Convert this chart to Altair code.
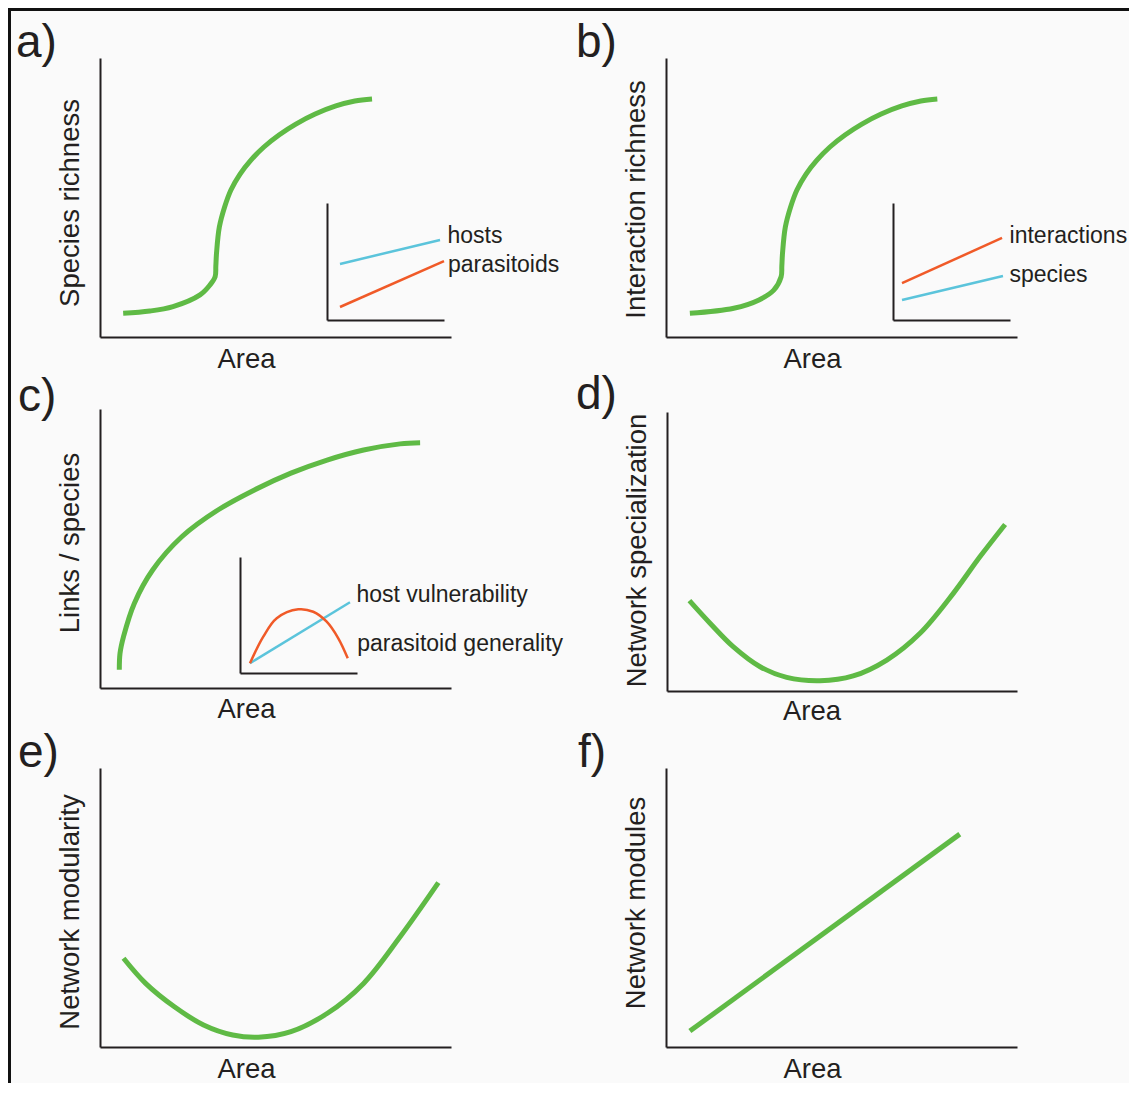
import altair as alt
import pandas as pd

# ---------------- values ----------------
# Every series is on a relative 0-100 scale of its own panel (x = Area).
panel_letters = ["a)", "b)", "c)", "d)", "e)", "f)"]
y_titles = ["Species richness", "Interaction richness", "Links / species",
            "Network specialization", "Network modularity", "Network modules"]
x_title = "Area"

a_area = [6.6, 14.2, 20.8, 28.5, 31.3, 32.8, 33.0, 33.2, 34.0, 35.5, 37.3, 39.9, 43.0,
          46.7, 51.0, 55.8, 61.3, 67.2, 72.6, 77.5]
a_species_richness = [8.5, 9.3, 10.9, 15.1, 18.6, 21.6, 25.4, 30.1, 39.4, 46.6, 52.7, 58.4, 63.4,
                      68.1, 72.4, 76.3, 79.9, 82.8, 84.6, 85.3]

b_area = [6.8, 19.3, 26.5, 30.7, 32.8, 33.0, 33.2, 34.0, 35.5, 37.3, 39.9, 43.0,
          46.7, 51.0, 55.8, 61.3, 67.2, 72.6, 77.3]
b_interaction_richness = [8.5, 10.3, 13.3, 16.8, 21.6, 25.4, 30.1, 39.4, 46.6, 52.7, 58.4, 63.4,
                          68.1, 72.4, 76.3, 79.9, 82.8, 84.6, 85.3]

c_area = [5.5, 5.7, 6.7, 9.8, 15.0, 23.3, 33.6, 44.0, 54.4, 64.7, 75.1, 85.5, 91.2]
c_links_per_species = [6.5, 12.4, 18.4, 30.4, 42.3, 54.2, 63.8, 71.0, 77.0, 81.7, 85.3, 87.5, 87.9]

d_area = [6.4, 12.3, 18.9, 26.6, 34.2, 43.7, 53.2, 62.8, 72.3, 81.8, 89.4, 96.6]
d_specialization = [32.4, 24.3, 15.9, 8.7, 4.9, 3.7, 5.4, 11.1, 20.7, 35.0, 48.1, 59.7]

e_area = [6.7, 13.0, 21.2, 29.5, 37.8, 45.1, 54.4, 64.8, 75.1, 85.5, 96.4]
e_modularity = [31.8, 22.8, 14.4, 7.9, 4.3, 3.5, 5.5, 12.1, 22.8, 39.5, 58.9]

f_area = [6.8, 83.7]
f_modules = [5.7, 76.3]

# insets (relative 0-100 scales of each inset)
a_inset_names = ["hosts", "parasitoids"]
a_inset_area_hosts = [11.1, 96.6]
a_inset_hosts = [47.9, 68.4]
a_inset_area_parasitoids = [11.1, 100.0]
a_inset_parasitoids = [11.1, 50.4]

b_inset_names = ["interactions", "species"]
b_inset_area_interactions = [7.7, 93.2]
b_inset_interactions = [31.6, 70.1]
b_inset_area_species = [7.7, 94.0]
b_inset_species = [17.1, 37.6]

c_inset_names = ["host vulnerability", "parasitoid generality"]
c_inset_area_vulnerability = [8.5, 94.0]
c_inset_vulnerability = [8.4, 61.0]
c_inset_area_generality = [8.5, 19.9, 31.4, 49.8, 62.6, 74.1, 84.0, 92.1]
c_inset_generality = [8.4, 31.3, 47.2, 54.9, 52.8, 44.2, 29.9, 12.7]

# ---------------- styling / layout ----------------
W, H = 1121, 1075
FONT = "Liberation Sans, Arial, Helvetica, sans-serif"
INK = "#231f20"
GREEN = "#5fba45"
ORANGE = "#f05a28"
BLUE = "#5bc4db"
CURVE = "catmull-rom"

# plot area of each panel: (x_left, x_right, y_bottom, y_top) in pixels
MAIN_GEO = {
    "a": (92, 443, 329, 50),
    "b": (658, 1009, 329, 50),
    "c": (92, 443, 680, 401),
    "d": (659, 1009, 683, 404),
    "e": (92, 443, 1039, 760),
    "f": (658, 1009, 1039, 760),
}
X_TITLE_POS = {"a": (238, 30), "b": (804, 30), "c": (238, 29),
               "d": (803.5, 28), "e": (238, 30), "f": (804, 30)}
Y_TITLE_POS = {"a": 194.5, "b": 191, "c": 534.5, "d": 542, "e": 903.5, "f": 894.5}
LETTER_POS = {"a": (8, 49), "b": (568, 49), "c": (10, 403),
              "d": (568, 401), "e": (10, 759), "f": (570, 759)}
INSET_GEO = {
    "a": (319, 436, 312, 195),
    "b": (885, 1002, 312, 195),
    "c": (232, 349, 665, 549),
}


def sc(rng):
    return alt.Scale(domain=[0, 100], range=list(rng), nice=False, zero=False)


def main_panel(key, xs, ys, ytitle):
    x0, x1, yb, yt = MAIN_GEO[key]
    tx, ty = X_TITLE_POS[key]
    df = pd.DataFrame({"area": xs, "value": ys})
    return alt.Chart(df).mark_line(
        color=GREEN, strokeWidth=5, interpolate=CURVE, strokeCap="butt"
    ).encode(
        x=alt.X("area:Q", scale=sc((x0, x1)),
                axis=alt.Axis(orient="bottom", offset=yb - H, title=x_title,
                              titleX=tx, titleY=ty, titleAlign="center",
                              titleBaseline="alphabetic")),
        y=alt.Y("value:Q", scale=sc((yb, yt)),
                axis=alt.Axis(orient="left", offset=-x0, title=ytitle,
                              titleX=-22, titleY=Y_TITLE_POS[key], titleAngle=270,
                              titleAlign="center", titleBaseline="alphabetic")),
    )


def inset_line(key, xs, ys, color, with_axes):
    x0, x1, yb, yt = INSET_GEO[key]
    df = pd.DataFrame({"area": xs, "value": ys})
    if with_axes:
        xa = alt.Axis(orient="bottom", offset=yb - H, title="")
        ya = alt.Axis(orient="left", offset=-x0, title="")
    else:
        xa = None
        ya = None
    return alt.Chart(df).mark_line(
        color=color, strokeWidth=2.5, interpolate=CURVE
    ).encode(
        x=alt.X("area:Q", scale=sc((x0, x1)), axis=xa),
        y=alt.Y("value:Q", scale=sc((yb, yt)), axis=ya),
    )


def end_label(key, xs, ys, text, dx, dy):
    x0, x1, yb, yt = INSET_GEO[key]
    df = pd.DataFrame({"area": [xs[-1]], "value": [ys[-1]], "label": [text]})
    return alt.Chart(df).mark_text(
        align="left", baseline="alphabetic", dx=dx, dy=dy,
        font=FONT, fontSize=23, color=INK
    ).encode(
        x=alt.X("area:Q", scale=sc((x0, x1)), axis=None),
        y=alt.Y("value:Q", scale=sc((yb, yt)), axis=None),
        text="label:N",
    )


def letter(key, text):
    lx, ly = LETTER_POS[key]
    df = pd.DataFrame({"label": [text]})
    return alt.Chart(df).mark_text(
        align="left", baseline="alphabetic", font=FONT, fontSize=46, color=INK
    ).encode(x=alt.value(lx), y=alt.value(ly), text="label:N")


frame_df = pd.DataFrame({"k": [0]})
frame_left = alt.Chart(frame_df).mark_rule(color="#111111", strokeWidth=3).encode(
    x=alt.value(1.5), y=alt.value(0), y2=alt.value(H))
frame_top = alt.Chart(frame_df).mark_rule(color="#111111", strokeWidth=3).encode(
    y=alt.value(1.5), x=alt.value(0), x2=alt.value(W))

layers = [
    main_panel("a", a_area, a_species_richness, y_titles[0]),
    main_panel("b", b_area, b_interaction_richness, y_titles[1]),
    main_panel("c", c_area, c_links_per_species, y_titles[2]),
    main_panel("d", d_area, d_specialization, y_titles[3]),
    main_panel("e", e_area, e_modularity, y_titles[4]),
    main_panel("f", f_area, f_modules, y_titles[5]),
    # inset a
    inset_line("a", a_inset_area_hosts, a_inset_hosts, BLUE, True),
    inset_line("a", a_inset_area_parasitoids, a_inset_parasitoids, ORANGE, False),
    end_label("a", a_inset_area_hosts, a_inset_hosts, a_inset_names[0], 7.5, 3),
    end_label("a", a_inset_area_parasitoids, a_inset_parasitoids, a_inset_names[1], 4, 11),
    # inset b
    inset_line("b", b_inset_area_species, b_inset_species, BLUE, True),
    inset_line("b", b_inset_area_interactions, b_inset_interactions, ORANGE, False),
    end_label("b", b_inset_area_interactions, b_inset_interactions, b_inset_names[0], 7.5, 5),
    end_label("b", b_inset_area_species, b_inset_species, b_inset_names[1], 6.5, 6),
    # inset c
    inset_line("c", c_inset_area_vulnerability, c_inset_vulnerability, BLUE, True),
    inset_line("c", c_inset_area_generality, c_inset_generality, ORANGE, False),
    end_label("c", c_inset_area_vulnerability, c_inset_vulnerability, c_inset_names[0], 6.5, 0),
    end_label("c", c_inset_area_generality, c_inset_generality, c_inset_names[1], 9.5, -7.5),
    frame_left,
    frame_top,
]
for k, t in zip("abcdef", panel_letters):
    layers.append(letter(k, t))

chart = alt.layer(*layers).resolve_scale(
    x="independent", y="independent"
).resolve_axis(
    x="independent", y="independent"
).properties(
    width=W, height=H, background="#fafafa", padding=0,
    autosize=alt.AutoSizeParams(type="none"),
).configure_view(
    strokeWidth=0
).configure_axis(
    grid=False, ticks=False, labels=False,
    domainColor=INK, domainWidth=2,
    titleFont=FONT, titleFontSize=27.5, titleFontWeight="normal", titleColor=INK,
    titlePadding=0,
)

chart.save("out.html", embed_options={"renderer": "svg", "actions": False})
